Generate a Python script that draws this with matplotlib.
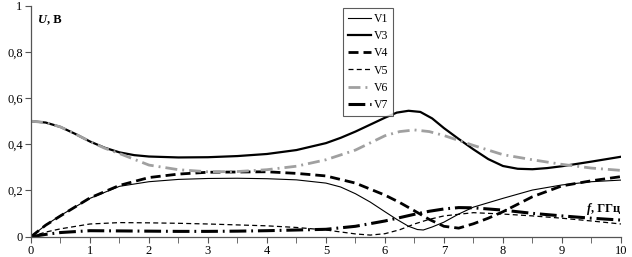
import numpy as np
import matplotlib
matplotlib.use('Agg')
import matplotlib.pyplot as plt
from matplotlib.ticker import MultipleLocator, FuncFormatter

plt.rcParams['font.family'] = ['Liberation Serif', 'DejaVu Serif']

# === Data (f in GHz, U in V) ===
x1 = [0, 0.25, 0.5, 1.0, 1.5, 2.0, 2.5, 3.0, 3.5, 4.0, 4.5, 5.0, 5.25, 5.5, 5.75,
      6.0, 6.2, 6.4, 6.55, 6.65, 6.8, 7.0, 7.25, 7.5, 8.0, 8.5, 9.0, 9.5, 10]
v1 = [0, 0.05, 0.092, 0.166, 0.218, 0.238, 0.248, 0.252, 0.253, 0.251, 0.246, 0.232, 0.215, 0.186, 0.15,
      0.108, 0.075, 0.045, 0.031, 0.029, 0.042, 0.063, 0.098, 0.128, 0.166, 0.202, 0.224, 0.238, 0.245]

x3 = [0, 0.25, 0.5, 0.75, 1.0, 1.25, 1.5, 1.75, 2.0, 2.5, 3.0, 3.5, 4.0, 4.5, 5.0, 5.25, 5.5, 5.75,
      6.0, 6.2, 6.4, 6.6, 6.8, 7.0, 7.25, 7.5, 7.75, 8.0, 8.25, 8.5, 8.75, 9.0, 9.5, 10]
v3 = [0.5, 0.494, 0.475, 0.445, 0.412, 0.385, 0.365, 0.353, 0.347, 0.343, 0.344, 0.349, 0.358, 0.375, 0.405, 0.428, 0.455, 0.485,
      0.515, 0.537, 0.545, 0.54, 0.512, 0.47, 0.423, 0.378, 0.336, 0.306, 0.294, 0.292, 0.297, 0.305, 0.325, 0.346]

x4 = [0, 0.25, 0.5, 1.0, 1.5, 2.0, 2.5, 3.0, 3.5, 4.0, 4.5, 5.0, 5.5, 6.0, 6.25, 6.5, 6.75,
      7.0, 7.25, 7.5, 7.75, 8.0, 8.5, 9.0, 9.5, 10]
v4 = [0, 0.05, 0.09, 0.168, 0.222, 0.256, 0.271, 0.279, 0.28, 0.281, 0.274, 0.263, 0.232, 0.18, 0.148, 0.112, 0.075,
      0.045, 0.037, 0.056, 0.08, 0.108, 0.173, 0.22, 0.242, 0.26]

x5 = [0, 0.25, 0.5, 1.0, 1.5, 2.0, 2.5, 3.0, 3.5, 4.0, 4.5, 5.0, 5.5, 5.75, 6.0, 6.25, 6.5, 6.75,
      7.0, 7.5, 8.0, 8.5, 9.0, 9.5, 10]
v5 = [0, 0.02, 0.034, 0.055, 0.061, 0.06, 0.058, 0.055, 0.051, 0.047, 0.04, 0.029, 0.012, 0.007, 0.013, 0.03, 0.055, 0.075,
      0.09, 0.104, 0.098, 0.09, 0.08, 0.068, 0.055]

x6 = [0, 0.25, 0.5, 0.75, 1.0, 1.25, 1.5, 1.75, 2.0, 2.5, 3.0, 3.5, 4.0, 4.5, 5.0, 5.5, 6.0, 6.25, 6.5, 6.75,
      7.0, 7.5, 8.0, 8.5, 9.0, 9.5, 10]
v6 = [0.5, 0.494, 0.475, 0.445, 0.412, 0.383, 0.36, 0.335, 0.31, 0.29, 0.281, 0.282, 0.29, 0.305, 0.333, 0.375, 0.437, 0.455, 0.462, 0.455,
      0.438, 0.395, 0.355, 0.333, 0.313, 0.297, 0.287]

x7 = [0, 0.25, 0.5, 1.0, 1.5, 2.0, 2.5, 3.0, 3.5, 4.0, 4.5, 5.0, 5.5, 6.0, 6.5, 6.75,
      7.0, 7.25, 7.5, 8.0, 8.5, 9.0, 9.5, 10]
v7 = [0, 0.01, 0.018, 0.026, 0.025, 0.024, 0.023, 0.023, 0.024, 0.026, 0.029, 0.032, 0.045, 0.068, 0.097, 0.11,
      0.12, 0.126, 0.125, 0.115, 0.101, 0.09, 0.08, 0.072]


def comma_fmt(v, pos):
    v = round(v, 6)
    if v == int(v):
        return str(int(v))
    return f'{v:.1f}'.replace('.', ',')


# === Plot ===
fig = plt.figure(figsize=(6.32, 2.57), dpi=100)
ax = fig.add_axes([0.049, 0.079, 0.9335, 0.899])

ax.plot(x1, v1, color='black', lw=0.8, label='V1')
ax.plot(x3, v3, color='black', lw=1.6, label='V3')
ax.plot(x4, v4, color='black', lw=2.0, ls=(0, (3.6, 1.8)), label='V4')
ax.plot(x5, v5, color='black', lw=0.9, ls=(0, (4, 2.6)), label='V5')
ax.plot(x6, v6, color='#a0a0a0', lw=2.0, ls=(0, (4.3, 1.8, 0.7, 1.8)), label='V6')
ax.plot(x7, v7, color='black', lw=2.2, ls=(0, (5.5, 1.6, 0.6, 1.6)), label='V7')

ax.set_xlim(0, 10)
ax.set_ylim(0, 1)
ax.xaxis.set_major_locator(MultipleLocator(1))
ax.xaxis.set_minor_locator(MultipleLocator(0.5))
ax.yaxis.set_major_locator(MultipleLocator(0.2))
ax.yaxis.set_major_formatter(FuncFormatter(comma_fmt))

for s in ['top', 'right']:
    ax.spines[s].set_visible(False)
for s in ['left', 'bottom']:
    ax.spines[s].set_color('#555555')
    ax.spines[s].set_linewidth(0.9)
ax.tick_params(which='both', direction='out', color='#555555', labelsize=9, pad=2)
ax.tick_params(which='major', length=4)
ax.tick_params(which='minor', length=4)

# axis captions
t1 = ax.text(0.12, 0.94, 'U', fontsize=9, fontweight='bold', fontstyle='italic', va='center', ha='left')
ax.annotate(', В', xy=(1, 0), xycoords=t1, va='bottom', ha='left', fontsize=9, fontweight='bold')
t2 = ax.text(9.43, 0.122, 'f', fontsize=9, fontweight='bold', fontstyle='italic', va='center', ha='left')
ax.annotate(', ГГц', xy=(1, 0), xycoords=t2, va='bottom', ha='left', fontsize=9, fontweight='bold')

leg = ax.legend(loc='upper left', bbox_to_anchor=(0.529, 0.99), fontsize=8.5, frameon=True,
                fancybox=False, edgecolor='#333333', handlelength=2.0, handletextpad=0.2,
                labelspacing=0.45, borderpad=0.4, borderaxespad=0)
leg.get_frame().set_linewidth(0.8)

plt.savefig('out.png', dpi=100)
